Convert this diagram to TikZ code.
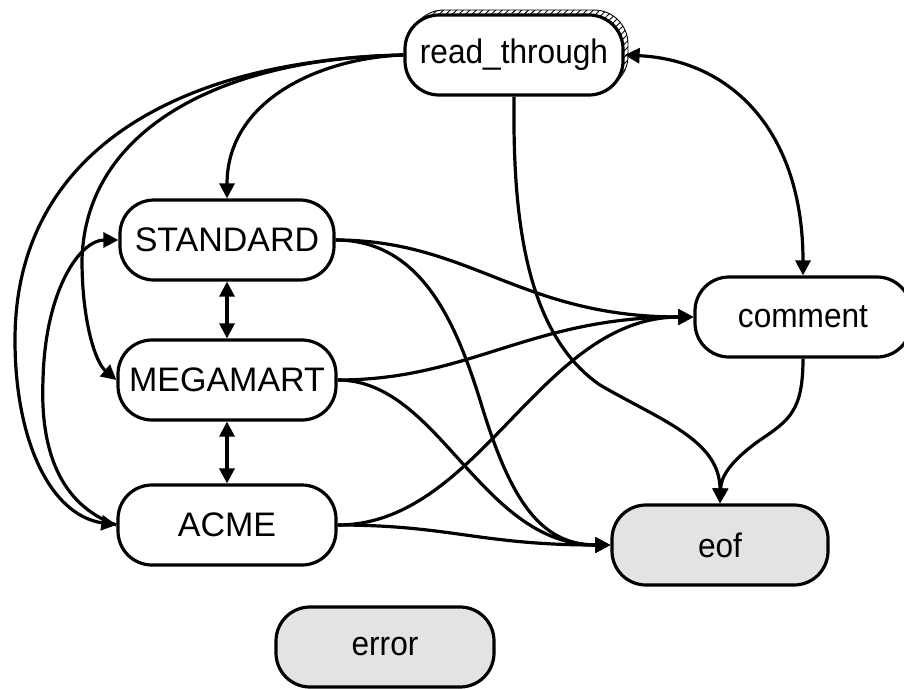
\documentclass[tikz,border=0pt]{standalone}
\usepackage{fontspec}
\usepackage{graphicx}
\setmainfont{Liberation Sans}
\usetikzlibrary{arrows.meta,shadows,patterns.meta}

% lower-case labels are set a little narrower
\newcommand\squeeze[1]{\scalebox{0.93}[1]{#1}}

\begin{document}
\begin{tikzpicture}[x=1pt,y=-1pt,
  state/.style={draw, line width=3.2pt, rounded corners=34pt, fill=white,
    minimum height=80pt, minimum width=216pt, inner sep=0pt,
    font=\fontsize{34}{40}\selectfont},
  final/.style={state, fill=black!11},
  hatched/.style={general shadow={shadow xshift=5pt, shadow yshift=5pt,
    draw, line width=0.9pt,
    pattern={Lines[angle=45,distance=4.6pt,line width=0.9pt]}}},
  tip/.tip={Triangle[length=15pt,width=15pt]},
  edge/.style={line width=3.2pt, -tip},
  bi/.style={line width=3.2pt, tip-tip}]

\useasboundingbox (0,0) rectangle (904,688);
\clip (0,0) rectangle (904,688);

% states
\node[state, hatched, minimum width=218pt] (rt) at (514,55) {\squeeze{read\_through}};
\node[state, minimum width=214pt] (std) at (227,240) {STANDARD};
\node[state, minimum width=218pt] (mega) at (227,380) {MEGAMART};
\node[state, minimum width=218pt] (acme) at (227,525) {ACME};
\node[state] (cmt) at (803,317) {\squeeze{comment}};
\node[final] (eof) at (720,545) {\squeeze{eof}};
\node[final, minimum width=218pt] (err) at (385,647) {\squeeze{error}};

% transitions out of read_through
\draw[edge] (rt.west) .. controls (320,58) and (227,100) .. (std.north);
\draw[edge] (rt.west) .. controls (220,58) and (85,130) .. (82,260)
  .. controls (82,320) and (95,362) .. (mega.west);
\draw[edge] (rt.west) .. controls (180,60) and (15,150) .. (15,340)
  .. controls (15,440) and (50,515) .. (acme.west);
\draw[edge] (rt.south) .. controls (513,200) and (520,330) .. (600,385)
  .. controls (660,420) and (720,440) .. (eof.north);
\draw[bi] (rt.east) .. controls (730,60) and (803,130) .. (cmt.north);

% between the record kinds
\draw[edge] (acme.west) .. controls (60,505) and (40,450) .. (43,380)
  .. controls (45,290) and (80,240) .. (std.west);
\draw[bi] (std.south) -- (mega.north);
\draw[bi] (mega.south) -- (acme.north);

% into comment
\draw[edge] (std.east) .. controls (470,240) and (520,317) .. (cmt.west);
\draw[edge] (mega.east) .. controls (470,380) and (530,317) .. (cmt.west);
\draw[edge] (acme.east) .. controls (480,525) and (540,317) .. (cmt.west);

% into eof
\draw[edge] (std.east) .. controls (420,240) and (455,320) .. (480,400)
  .. controls (510,500) and (540,545) .. (eof.west);
\draw[edge] (mega.east) .. controls (440,380) and (480,545) .. (eof.west);
\draw[edge] (acme.east) .. controls (450,525) and (480,545) .. (eof.west);
\draw[edge] (cmt.south) .. controls (803,410) and (790,420) .. (760,440)
  .. controls (725,465) and (721,480) .. (eof.north);
\end{tikzpicture}
\end{document}
